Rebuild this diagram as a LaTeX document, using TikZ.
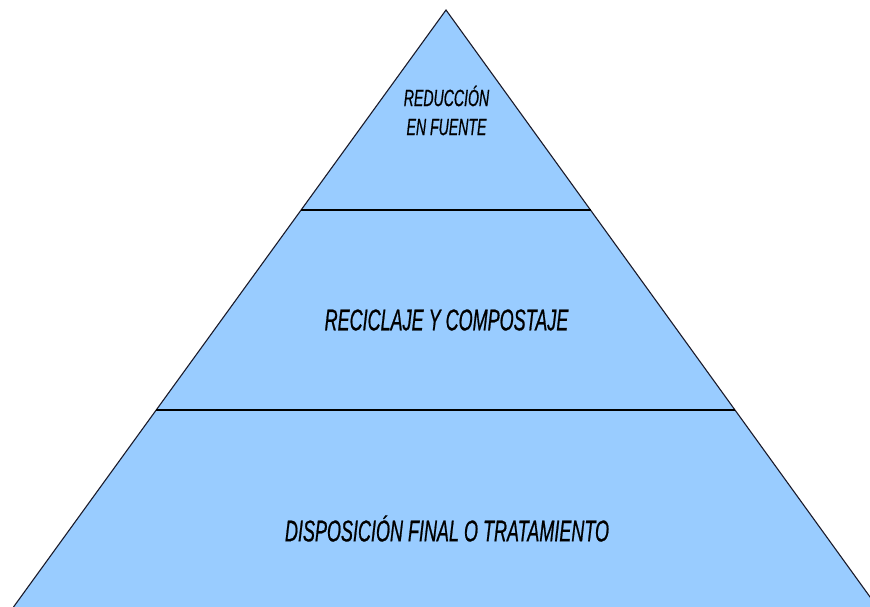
\documentclass[tikz,border=0pt]{standalone}
\usepackage{fontspec}
\setmainfont{Liberation Sans}
\newfontfamily\narrowA[FakeStretch=0.60,FakeBold=0.6]{Liberation Sans}
\definecolor{pyrblue}{HTML}{99CCFF}
\definecolor{edgegray}{HTML}{1A1A2A}
\begin{document}
\begin{tikzpicture}[x=1pt,y=-1pt,
  level/.style={line width=2pt,black},
  lbl/.style={inner sep=0pt,align=center,text=black}]
\useasboundingbox (0,0) rectangle (870,607);
\coordinate (apex) at (446,10);
\coordinate (bl) at (13.5,607);
\coordinate (br) at (877.3,607);
\fill[pyrblue] (apex) -- (bl) -- (br) -- cycle;
\draw[edgegray,line width=1.1pt] (bl) -- (apex) -- (br);
\coordinate (l1) at (301,210);
\coordinate (r1) at (590.5,210);
\coordinate (l2) at (156,410);
\coordinate (r2) at (735,410);
\draw[level] (l1) -- (r1);
\draw[level] (l2) -- (r2);
\node[lbl,font=\narrowA\itshape\fontsize{23.5}{29}\selectfont] (t1) at (446.5,110.5) {REDUCCIÓN\\EN FUENTE};
\node[lbl,font=\narrowA\itshape\fontsize{30}{32}\selectfont] (t2) at (446.5,320) {RECICLAJE Y COMPOSTAJE};
\node[lbl,font=\narrowA\itshape\fontsize{30}{32}\selectfont] (t3) at (447,528.5) {DISPOSICIÓN FINAL O TRATAMIENTO};
\end{tikzpicture}
\end{document}
